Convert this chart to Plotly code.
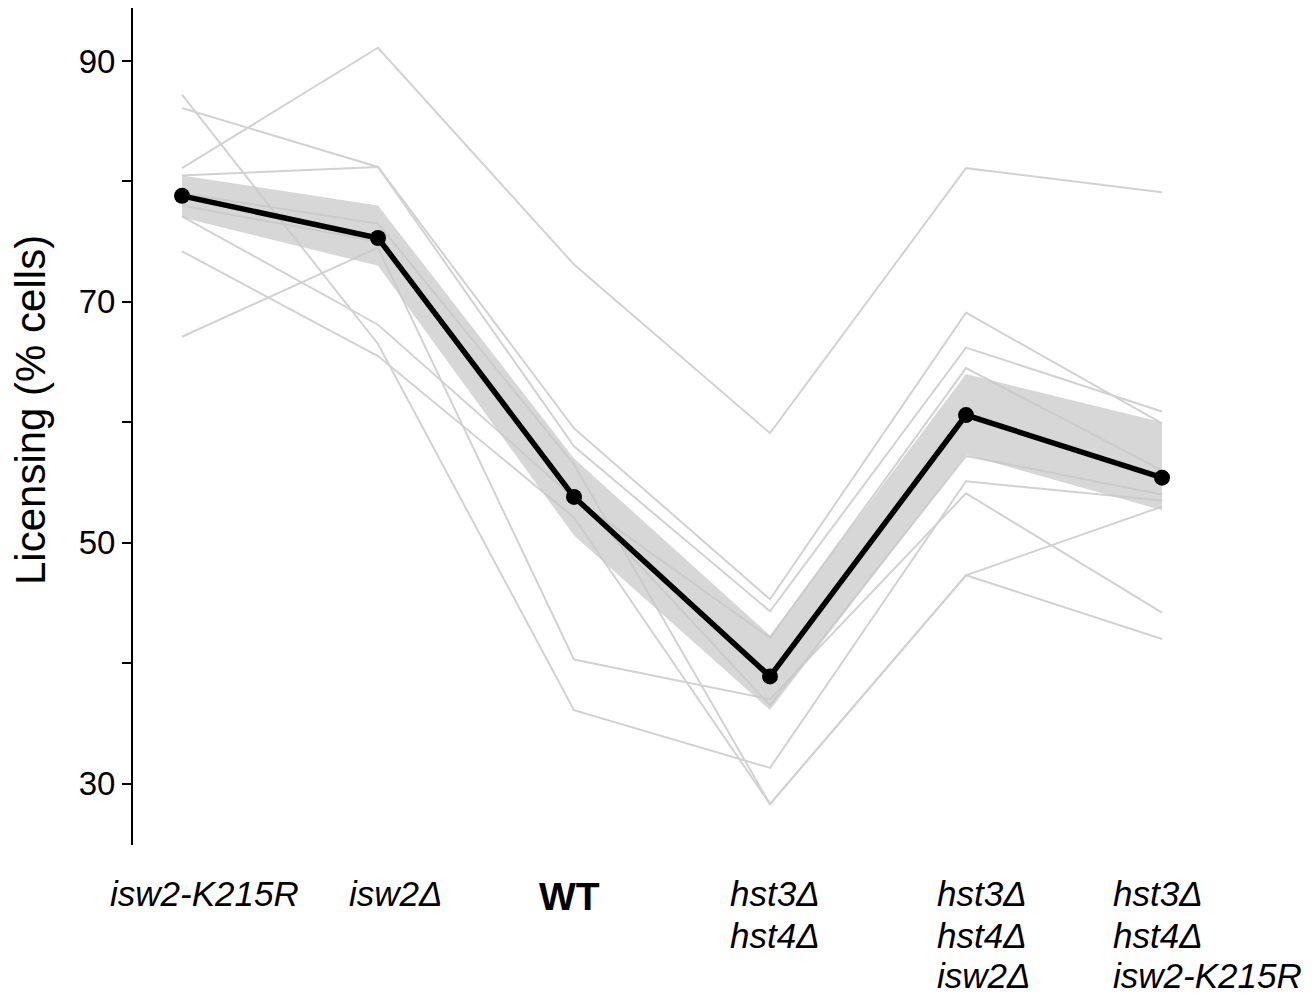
import plotly.graph_objects as go

# ---------------- data ----------------
categories = ["isw2-K215R", "isw2Δ", "WT", "hst3Δ hst4Δ", "hst3Δ hst4Δ isw2Δ", "hst3Δ hst4Δ isw2-K215R"]
x_idx = list(range(len(categories)))

rep_A = [81.1, 91.1, 73.1, 59.1, 81.1, 79.1]
rep_B = [86.1, 81.2, 59.5, 45.3, 69.1, 59.9]
rep_C = [80.5, 81.2, 58.0, 44.3, 66.2, 60.9]
rep_D = [87.2, 66.5, 36.1, 31.3, 55.1, 53.5]
rep_E = [77.1, 68.1, 53.7, 42.1, 64.5, 56.0]
rep_F = [74.2, 65.5, 52.1, 28.3, 47.3, 42.0]
rep_G = [67.1, 74.5, 40.3, 37.0, 54.1, 44.2]
rep_H = [79.0, 76.5, 56.5, 28.3, 47.3, 53.0]
rep_I = [78.0, 75.0, 54.0, 36.5, 57.2, 54.0]
replicates = [rep_A, rep_B, rep_C, rep_D, rep_E, rep_F, rep_G, rep_H, rep_I]

mean_vals = [78.8, 75.3, 53.8, 38.9, 60.6, 55.4]
band_upper = [80.5, 78.0, 57.0, 42.3, 64.0, 60.0]
band_lower = [77.0, 73.0, 50.6, 36.1, 57.3, 52.7]

# label lines (rows) for each category
label_rows = [
    ["isw2-K215R"],
    ["isw2Δ"],
    ["WT"],
    ["hst3Δ", "hst4Δ"],
    ["hst3Δ", "hst4Δ", "isw2Δ"],
    ["hst3Δ", "hst4Δ", "isw2-K215R"],
]

y_ticks = [30, 50, 70, 90]

FONT = "Liberation Sans, Arial, Helvetica, sans-serif"

fig = go.Figure()

# individual replicate lines
for rep in replicates:
    fig.add_trace(go.Scatter(
        x=x_idx, y=rep, mode="lines",
        line=dict(color="rgb(210,210,210)", width=2),
        hoverinfo="skip", showlegend=False))

# band (upper then lower filled to it)
fig.add_trace(go.Scatter(
    x=x_idx, y=band_upper, mode="lines",
    line=dict(width=0, color="rgba(0,0,0,0)"),
    hoverinfo="skip", showlegend=False))
fig.add_trace(go.Scatter(
    x=x_idx, y=band_lower, mode="lines",
    line=dict(width=0, color="rgba(0,0,0,0)"),
    fill="tonexty", fillcolor="rgba(200,200,200,0.72)",
    hoverinfo="skip", showlegend=False))

# mean line
fig.add_trace(go.Scatter(
    x=x_idx, y=mean_vals, mode="lines+markers",
    line=dict(color="black", width=5.5),
    marker=dict(color="black", size=16),
    showlegend=False))

# x labels as annotations (left aligned blocks)
label_left_shift = [-74, -31, -37, -42, -31, -51]
row_centers_px = [893, 935, 975]
bottom_px = 845
for i, rows in enumerate(label_rows):
    for r, txt in enumerate(rows):
        if txt == "WT":
            text = "<b>WT</b>"
            size = 39
            yc = 896
        else:
            text = "<i>" + txt + "</i>"
            size = 35
            yc = row_centers_px[r]
        fig.add_annotation(
            x=i, xref="x", y=0, yref="paper",
            xanchor="left", yanchor="middle",
            xshift=label_left_shift[i], yshift=-(yc - bottom_px),
            text=text, showarrow=False,
            font=dict(family=FONT, size=size, color="black"))

# y-axis title
fig.add_annotation(
    x=0, xref="paper", y=(845 - 410) / 837, yref="paper",
    xanchor="center", yanchor="middle", xshift=-103,
    text="Licensing (% cells)", textangle=-90, showarrow=False,
    font=dict(family=FONT, size=42, color="black"))

fig.update_layout(
    width=1316, height=994,
    margin=dict(l=133, r=105, t=8, b=149),
    plot_bgcolor="white", paper_bgcolor="white",
    xaxis=dict(range=[-0.25, 5.25], showticklabels=False, showline=False,
               showgrid=False, zeroline=False, ticks=""),
    yaxis=dict(range=[24.9, 94.4], tickvals=y_ticks, ticks="outside",
               ticklen=9, tickwidth=2, tickcolor="black",
               showline=True, linecolor="black", linewidth=2,
               showgrid=False, zeroline=False,
               tickfont=dict(family=FONT, size=33, color="black"),
               minor=dict(tickvals=[40, 60, 80], ticks="outside", ticklen=9,
                          tickwidth=2, tickcolor="black", showgrid=False)),
)

fig.write_html("out.html", config={"displayModeBar": False},
               post_script="document.body.style.margin='0';")
